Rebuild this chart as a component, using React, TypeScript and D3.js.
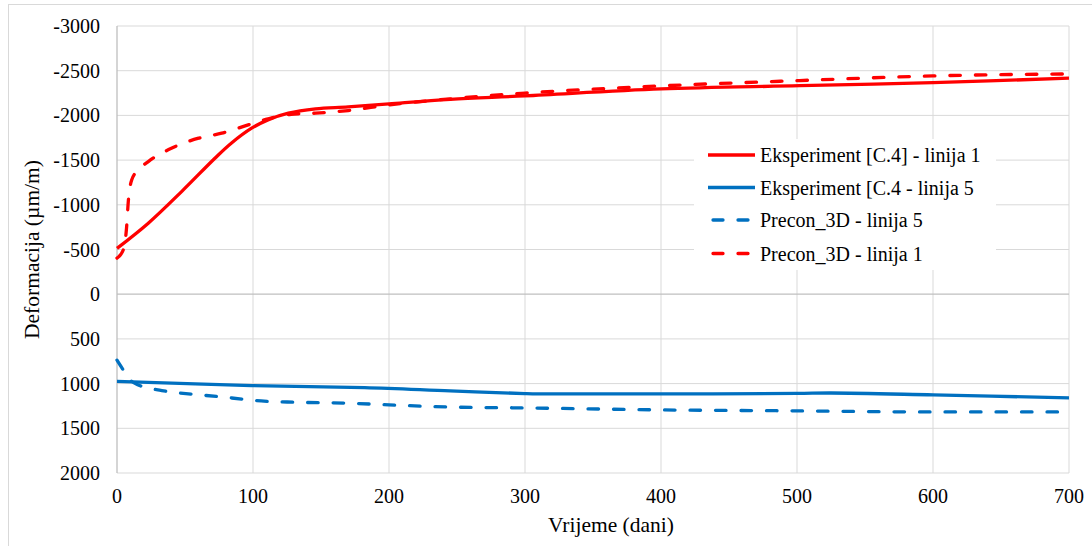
import React from "react";
import * as d3 from "d3";

const xTicks = [0, 100, 200, 300, 400, 500, 600, 700];
const yTicks = [-3000, -2500, -2000, -1500, -1000, -500, 0, 500, 1000, 1500, 2000];

const redSolidT = [0, 23, 47.5, 72, 84, 99, 111, 126, 146, 170, 200, 245, 300, 400, 502, 600, 700];
const redSolidV = [-512, -794, -1148, -1521, -1689, -1857, -1950, -2025, -2073, -2095, -2130, -2180, -2218, -2296, -2332, -2367, -2416];

const blueSolidT = [0, 99, 182, 245, 300, 310, 400, 500, 525, 600, 700];
const blueSolidV = [975, 1022, 1045, 1082, 1112, 1115, 1115, 1110, 1105, 1126, 1160];

const blueDashT = [0, 4.6, 10.8, 15.7, 33, 55, 74.5, 93, 106, 131, 170, 200, 245, 300, 400, 500, 600, 700];
const blueDashV = [738, 847, 975, 1015, 1078, 1119, 1145, 1175, 1194, 1208, 1219, 1238, 1262, 1272, 1294, 1305, 1317, 1317];

const redDashT = [0, 4.6, 7, 8.3, 10.8, 15.7, 23, 40, 60, 77, 96.5, 111, 128, 146, 170, 200, 245, 300, 400, 502, 600, 700];
const redDashV = [-403, -495, -738, -1036, -1278, -1390, -1483, -1633, -1745, -1801, -1894, -1961, -2013, -2025, -2054, -2118, -2185, -2250, -2330, -2390, -2442, -2464];

const seriesNames = [
  "Eksperiment [C.4] - linija 1",
  "Eksperiment [C.4 - linija 5",
  "Precon_3D - linija 5",
  "Precon_3D - linija 1",
];

const FONT = "'Liberation Serif', 'Times New Roman', serif";

export default function App() {
  const left = 117, right = 1069, top = 26, bottom = 473;
  const x = d3.scaleLinear().domain([0, 700]).range([left, right]);
  const y = d3.scaleLinear().domain([-3000, 2000]).range([top, bottom]);

  const mk = (t: number[], v: number[], curve: d3.CurveFactory) =>
    d3.line<number>()
      .x((_, i) => x(t[i]))
      .y((d) => y(d))
      .curve(curve)(v) as string;

  const series = [
    { d: mk(redSolidT, redSolidV, d3.curveCatmullRom.alpha(0.5)), color: "#FF0000", dash: undefined },
    { d: mk(blueSolidT, blueSolidV, d3.curveCatmullRom.alpha(0.5)), color: "#0070C0", dash: undefined },
    { d: mk(blueDashT, blueDashV, d3.curveMonotoneX), color: "#0070C0", dash: "10.5,15" },
    { d: mk(redDashT, redDashV, d3.curveMonotoneX), color: "#FF0000", dash: "10.5,15" },
  ];

  const legendY = [155, 187.5, 220, 253.5];

  return (
    <svg width={1092} height={546} style={{ position: "absolute", left: 0, top: 0, background: "#fff" }}>
      <rect x={8.5} y={4.5} width={1200} height={700} fill="#fff" stroke="#d9d9d9" strokeWidth={1} />
      {xTicks.slice(1).map((t) => (
        <line key={"gx" + t} x1={x(t)} x2={x(t)} y1={top} y2={bottom} stroke="#d9d9d9" strokeWidth={1} />
      ))}
      {yTicks.filter((v) => v !== 0).map((v) => (
        <line key={"gy" + v} x1={left} x2={right} y1={y(v)} y2={y(v)} stroke="#d9d9d9" strokeWidth={1} />
      ))}
      <line x1={left} x2={right} y1={y(0)} y2={y(0)} stroke="#bfbfbf" strokeWidth={1.3} />
      <line x1={left} x2={left} y1={top} y2={bottom} stroke="#bfbfbf" strokeWidth={1.3} />
      {yTicks.map((v) => (
        <text key={"ty" + v} x={100} y={y(v)} dy="0.35em" textAnchor="end" fontFamily={FONT} fontSize={20} fill="#000">
          {v}
        </text>
      ))}
      {xTicks.map((t) => (
        <text key={"tx" + t} x={x(t)} y={503} textAnchor="middle" fontFamily={FONT} fontSize={20} fill="#000">
          {t}
        </text>
      ))}
      {series.map((s, i) => (
        <path key={"s" + i} d={s.d} fill="none" stroke={s.color} strokeWidth={3.3}
          strokeDasharray={s.dash} strokeLinecap={s.dash ? "round" : "butt"} />
      ))}
      <rect x={694} y={139} width={302} height={131} fill="#fff" />
      {series.map((s, i) => (
        <g key={"l" + i}>
          <line x1={s.dash ? 713 : 708} x2={s.dash ? 750 : 755} y1={legendY[i]} y2={legendY[i]} stroke={s.color}
            strokeWidth={3.3} strokeDasharray={s.dash ? "10,15" : undefined} strokeLinecap={s.dash ? "round" : "butt"} />
          <text x={760} y={legendY[i]} dy="0.35em" fontFamily={FONT} fontSize={20} fill="#000">
            {seriesNames[i]}
          </text>
        </g>
      ))}
      <text transform={`translate(39, ${(top + bottom) / 2}) rotate(-90)`} textAnchor="middle" fontFamily={FONT} fontSize={21.5} fill="#000">
        Deformacija (µm/m)
      </text>
      <text x={611} y={532} textAnchor="middle" fontFamily={FONT} fontSize={21.5} fill="#000">
        Vrijeme (dani)
      </text>
    </svg>
  );
}
